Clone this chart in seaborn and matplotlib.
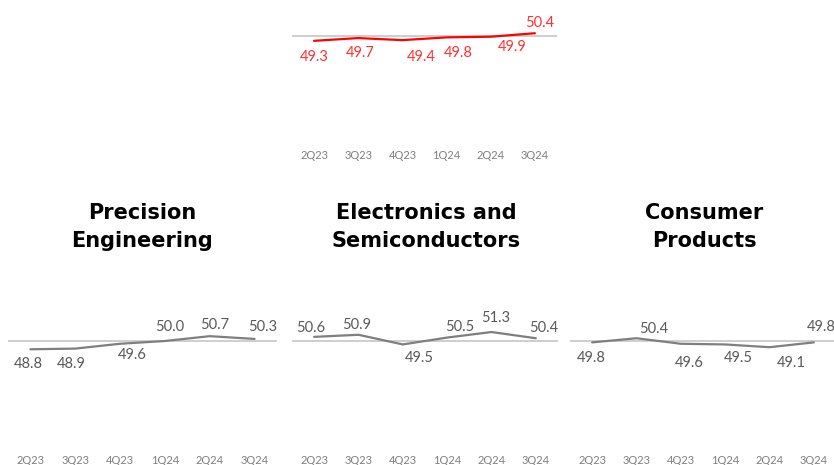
import matplotlib
matplotlib.use("Agg")
import matplotlib.pyplot as plt
import seaborn as sns
import pandas as pd

# ---- data ----
quarters = ["2Q23", "3Q23", "4Q23", "1Q24", "2Q24", "3Q24"]
overall = [49.3, 49.7, 49.4, 49.8, 49.9, 50.4]
precision_eng = [48.8, 48.9, 49.6, 50.0, 50.7, 50.3]
electronics = [50.6, 50.9, 49.5, 50.5, 51.3, 50.4]
consumer = [49.8, 50.4, 49.6, 49.5, 49.1, 49.8]
titles = ["Precision\nEngineering", "Electronics and\nSemiconductors", "Consumer\nProducts"]
threshold = 50.0

# label offsets in pixels (dx, dy)
off_overall = [(0, -16), (2, -15), (19, -17), (12, -15.5), (21, -10), (5, 10)]
off_pe = [(-2, -15), (-4, -15.5), (12, -11), (5, 14), (5, 11), (8, 12)]
off_el = [(-3, 9), (-2, 10), (16, -14), (13, 10.6), (4, 14), (8, 10)]
off_cp = [(-1, -15.6), (17, 9), (8, -19), (13, -14), (22, -16), (7, 15)]

sns.set_theme(style="white")
plt.rcParams["font.family"] = ["Lato", "DejaVu Sans"]

W, H = 834, 465
fig = plt.figure(figsize=(W / 100, H / 100), dpi=100)
PPU = 6.9  # pixels per index unit


def add_ax(x0, x1, ytop, ybot, ref):
    ax = fig.add_axes([x0 / W, 1 - ybot / H, (x1 - x0) / W, (ybot - ytop) / H])
    ax.set_ylim(threshold - (ybot - ref) / PPU, threshold + (ref - ytop) / PPU)
    return ax


def draw(ax, values, offsets, line_color, label_color):
    df = pd.DataFrame({"pos": list(range(len(quarters))), "value": values})
    ax.axhline(threshold, color="#c6c6c6", lw=1.2, zorder=1)
    sns.lineplot(data=df, x="pos", y="value", ax=ax, color=line_color, lw=1.6, zorder=2)
    for i, (v, (dx, dy)) in enumerate(zip(values, offsets)):
        ax.annotate(f"{v:.1f}", xy=(i, v), xytext=(dx, dy), textcoords="offset pixels",
                    ha="center", va="center", fontsize=10.5, color=label_color,
                    annotation_clip=False)
    ax.set_xlim(-0.5, len(quarters) - 0.5)
    ax.set_xticks(range(len(quarters)))
    ax.set_xticklabels(quarters)
    ax.tick_params(axis="x", length=0, pad=2.5, labelsize=8, labelcolor="#7f7f7f")
    ax.set_yticks([])
    ax.set_xlabel("")
    ax.set_ylabel("")
    for s in ax.spines.values():
        s.set_visible(False)
    ax.patch.set_alpha(0)


ax_top = add_ax(292, 557, 0, 147, 36)
draw(ax_top, overall, off_overall, "#ff0000", "#ff3030")

panels = [
    (8, 277, precision_eng, off_pe, 142),
    (292, 558, electronics, off_el, 426),
    (570, 836, consumer, off_cp, 704),
]
for (x0, x1, vals, offs, tx), title in zip(panels, titles):
    ax = add_ax(x0, x1, 280, 452, 341)
    draw(ax, vals, offs, "#7f7f7f", "#595959")
    fig.text(tx / W, 1 - 227 / H, title, ha="center", va="center", fontsize=15,
             fontweight="bold", color="#000000", linespacing=1.55,
             family=["DejaVu Sans"])

fig.savefig("out.png", dpi=100)
